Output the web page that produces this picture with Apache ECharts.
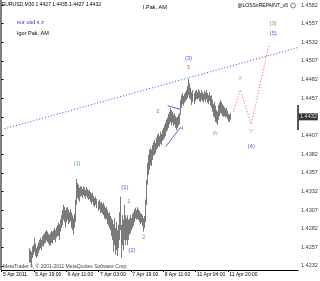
<!DOCTYPE html>
<html><head><meta charset="utf-8">
<script src="https://cdn.jsdelivr.net/npm/echarts@6/dist/echarts.min.js"></script>
<style>html,body{margin:0;padding:0;background:#fff}#c{width:320px;height:281px}</style>
</head><body><div id="c"></div>
<script>
// M30 bars, index 0 = 5 Apr 2011 03:00 ; first visible bar index
const firstBar = 27;
const highs = [
1.4256,1.4253,1.4251,1.4258,1.4260,1.4270,1.4262,1.4256,1.4259,1.4263,
1.4267,1.4270,1.4267,1.4272,1.4274,1.4276,1.4278,1.4280,1.4278,1.4275,
1.4274,1.4276,1.4279,1.4278,1.4280,1.4283,1.4280,1.4284,1.4287,1.4290,
1.4288,1.4294,1.4300,1.4307,1.4314,1.4311,1.4307,1.4310,1.4311,1.4307,
1.4304,1.4308,1.4304,1.4300,1.4296,1.4302,1.4321,1.4349,1.4343,1.4341,
1.4337,1.4339,1.4338,1.4335,1.4339,1.4337,1.4334,1.4338,1.4335,1.4333,
1.4334,1.4331,1.4329,1.4330,1.4326,1.4323,1.4325,1.4322,1.4319,1.4321,
1.4317,1.4318,1.4315,1.4317,1.4313,1.4310,1.4311,1.4307,1.4303,1.4304,
1.4299,1.4296,1.4294,1.4288,1.4296,1.4283,1.4291,1.4280,1.4287,1.4304,
1.4325,1.4287,1.4300,1.4294,1.4314,1.4300,1.4296,1.4300,1.4294,1.4296,
1.4300,1.4296,1.4302,1.4304,1.4308,1.4310,1.4307,1.4311,1.4308,1.4306,
1.4303,1.4302,1.4300,1.4296,1.4299,1.4321,1.4347,1.4370,1.4381,1.4388,
1.4390,1.4388,1.4394,1.4398,1.4401,1.4397,1.4404,1.4408,1.4410,1.4406,
1.4412,1.4409,1.4414,1.4417,1.4421,1.4424,1.4428,1.4431,1.4436,1.4439,
1.4444,1.4441,1.4439,1.4435,1.4437,1.4433,1.4431,1.4432,1.4435,1.4437,
1.4455,1.4461,1.4464,1.4460,1.4463,1.4465,1.4468,1.4473,1.4483,1.4477,
1.4471,1.4465,1.4468,1.4464,1.4467,1.4468,1.4465,1.4469,1.4467,1.4464,
1.4468,1.4465,1.4463,1.4467,1.4465,1.4468,1.4464,1.4461,1.4465,1.4460,
1.4461,1.4455,1.4449,1.4452,1.4447,1.4441,1.4439,1.4448,1.4451,1.4455,
1.4452,1.4449,1.4447,1.4445,1.4443,1.4444,1.4440,1.4436,1.4435,1.4437
];
const lows = [
1.4237,1.4236,1.4233,1.4243,1.4247,1.4251,1.4245,1.4243,1.4245,1.4249,
1.4253,1.4256,1.4253,1.4259,1.4258,1.4262,1.4263,1.4266,1.4264,1.4262,
1.4259,1.4260,1.4263,1.4262,1.4267,1.4267,1.4264,1.4270,1.4272,1.4272,
1.4267,1.4278,1.4283,1.4287,1.4294,1.4291,1.4284,1.4291,1.4294,1.4288,
1.4290,1.4292,1.4283,1.4280,1.4274,1.4283,1.4291,1.4314,1.4323,1.4321,
1.4318,1.4325,1.4326,1.4323,1.4327,1.4325,1.4322,1.4326,1.4323,1.4321,
1.4322,1.4318,1.4315,1.4318,1.4313,1.4311,1.4314,1.4310,1.4306,1.4308,
1.4303,1.4304,1.4302,1.4300,1.4296,1.4294,1.4295,1.4288,1.4286,1.4283,
1.4280,1.4272,1.4267,1.4251,1.4260,1.4247,1.4253,1.4245,1.4256,1.4267,
1.4280,1.4243,1.4260,1.4253,1.4267,1.4260,1.4267,1.4260,1.4267,1.4274,
1.4276,1.4280,1.4283,1.4286,1.4291,1.4296,1.4294,1.4295,1.4294,1.4291,
1.4288,1.4290,1.4286,1.4278,1.4283,1.4291,1.4314,1.4341,1.4354,1.4361,
1.4367,1.4366,1.4374,1.4380,1.4381,1.4383,1.4388,1.4390,1.4393,1.4392,
1.4396,1.4394,1.4400,1.4401,1.4404,1.4406,1.4412,1.4414,1.4417,1.4422,
1.4425,1.4421,1.4424,1.4420,1.4422,1.4417,1.4414,1.4417,1.4420,1.4422,
1.4435,1.4444,1.4449,1.4447,1.4451,1.4453,1.4455,1.4457,1.4461,1.4457,
1.4455,1.4448,1.4452,1.4449,1.4453,1.4456,1.4455,1.4457,1.4453,1.4452,
1.4455,1.4453,1.4451,1.4455,1.4452,1.4456,1.4451,1.4449,1.4453,1.4447,
1.4444,1.4439,1.4433,1.4431,1.4425,1.4424,1.4421,1.4428,1.4433,1.4437,
1.4436,1.4433,1.4432,1.4433,1.4431,1.4432,1.4429,1.4426,1.4425,1.4428
];
const lastPrice = 1.4432;
const priceTicks = [1.4232,1.4257,1.4282,1.4307,1.4332,1.4357,1.4382,1.4407,1.4432,1.4457,1.4482,1.4507,1.4532,1.4557,1.4582];
const timeTicks = [0,32,64,96,128,160,192,224];
const timeLabels = ['5 Apr 2011','5 Apr 19:00','6 Apr 11:00','7 Apr 03:00','7 Apr 19:00','8 Apr 11:00','11 Apr 04:00','11 Apr 20:00'];
const trendLine = [[2.95,1.4416],[293.4,1.4525]];
const projection = [[229.4,1.4439],[236.3,1.4468],[247.1,1.4422],[264.9,1.4530]];
const channelUpper = [[164.4,1.4447],[177.2,1.4442]];
const channelLower = [[162.5,1.4392],[177.2,1.4418]];
const labelsRed = [['1',126.0,1.4319],['2',140.8,1.4271],['3',154.6,1.4440],['4',178.2,1.4416],['5',185.1,1.4498]];
const labelsBlue = [['(1)',122.1,1.4338],['(2)',129.0,1.4253],['(3)',185.1,1.4510],['(4)',247.1,1.4393],['(5)',268.8,1.4544]];
const labelsGreen = [['[1]',74.8,1.4370],['[3]',268.8,1.4557]];
const labelsWXY = [['W',211.7,1.4410],['X',236.3,1.4483],['Y',247.1,1.4412]];

const FONT = 'Liberation Sans';
const X_MAX = 293.4;
const bars = highs.map((h,k)=>[firstBar+k, lows[k], h]);
function labelSeries(arr, color){
  return {type:'scatter', symbolSize:0, silent:true, z:5,
    data: arr.map(a=>({name:a[0], value:[a[1],a[2]]})),
    label:{show:true, position:'inside', formatter:'{b}', color:color, fontSize:6, fontFamily:FONT}};
}
const chart = echarts.init(document.getElementById('c'), null, {renderer:'canvas'});
chart.setOption({
  animation:false,
  backgroundColor:'#fff',
  grid:{left:0, right:22, top:0, bottom:11, show:false},
  title:[
    {text:'EURUSD,M30 1.4427 1.4435 1.4427 1.4432', left:2, top:2.5, padding:0, textStyle:{fontSize:5, fontWeight:'normal', color:'#000', fontFamily:FONT}},
    {text:'I.Pak, AM', left:143, top:4.5, padding:0, textStyle:{fontSize:5.5, fontWeight:'normal', color:'#000', fontFamily:FONT}},
    {text:'@LOSSnREPAINT_v5', right:32, top:3.5, padding:0, textStyle:{fontSize:5, fontWeight:'normal', color:'#000', fontFamily:FONT}},
    {text:'eur usd s z', left:17, top:19, padding:0, textStyle:{fontSize:5.5, fontWeight:'normal', color:'#3333dd', fontFamily:FONT}},
    {text:'Igor Pak, AM', left:17, top:30, padding:0, textStyle:{fontSize:5.5, fontWeight:'normal', color:'#000', fontFamily:FONT}},
    {text:'MetaTrader 4, \u00a9 2001-2011 MetaQuotes Software Corp.', left:3, top:264, padding:0, textStyle:{fontSize:5, fontWeight:'normal', color:'#444', fontFamily:FONT}}
  ],
  graphic:[
    {type:'line', shape:{x1:0.5, y1:0, x2:0.5, y2:270}, style:{stroke:'#808080', lineWidth:1}},
    {type:'circle', shape:{cx:293, cy:5.5, r:2.5}, style:{fill:'#fff', stroke:'#666', lineWidth:0.8}},
    {type:'rect', shape:{x:297, y:105, width:2, height:25}, style:{fill:'#555'}, z:100}
  ],
  xAxis:{type:'value', min:0, max:X_MAX,
    axisLine:{show:true, lineStyle:{color:'#000', width:1}},
    axisTick:{show:true, length:2, customValues:timeTicks, lineStyle:{color:'#000'}},
    axisLabel:{customValues:timeTicks, align:'left', margin:2, padding:[0,0,0,1.5], fontSize:5, color:'#000', fontFamily:FONT,
      formatter:v=>timeLabels[timeTicks.indexOf(Math.round(v))] || ''},
    splitLine:{show:false}},
  yAxis:{type:'value', position:'right', min:1.42266, max:1.45887,
    axisLine:{show:true, lineStyle:{color:'#808080', width:1}},
    axisTick:{show:true, length:2, customValues:priceTicks, lineStyle:{color:'#000'}},
    axisLabel:{show:false},
    splitLine:{show:false}},
  series:[
    {type:'custom', clip:true, silent:true, z:2,
      renderItem:(params, api)=>{
        const i=api.value(0);
        const p1=api.coord([i, api.value(1)]);
        const p2=api.coord([i, api.value(2)]);
        const x=Math.round(p1[0])+0.5;
        return {type:'line', shape:{x1:x, y1:p1[1], x2:x, y2:p2[1]}, style:{stroke:'#7a7a7a', lineWidth:1}};
      },
      encode:{x:0, y:[1,2]}, data:bars},
    // price scale labels
    {type:'scatter', symbolSize:0, silent:true, z:20, clip:false,
      data:priceTicks.filter(v=>v!==lastPrice).map(v=>({name:v.toFixed(4), value:[X_MAX, v]})),
      label:{show:true, position:'right', distance:3, formatter:'{b}', color:'#000', fontSize:5.5, fontFamily:FONT}},
    // current price box
    {type:'scatter', symbolSize:0, silent:true, z:21, clip:false,
      data:[{name:lastPrice.toFixed(4), value:[X_MAX, lastPrice]}],
      label:{show:true, position:'right', distance:1, formatter:'{b}', backgroundColor:'#000', color:'#fff', padding:[1,1,0,1], fontSize:5.5, fontFamily:FONT}},
    {type:'line', data:trendLine, symbol:'none', silent:true, z:3, lineStyle:{color:'#4848e0', width:1, type:[1,2]}},
    {type:'line', data:projection, symbol:'none', silent:true, z:3, lineStyle:{color:'#ff4d4d', width:1, type:[1,2]}},
    {type:'line', data:channelUpper, symbol:'none', silent:true, z:3, lineStyle:{color:'#6060e0', width:1}},
    {type:'line', data:channelLower, symbol:'none', silent:true, z:3, lineStyle:{color:'#6060e0', width:1}},
    labelSeries(labelsRed, '#c84040'),
    labelSeries(labelsBlue, '#2828d8'),
    labelSeries(labelsGreen, '#40a040'),
    labelSeries(labelsWXY, '#c08080')
  ]
});
</script></body></html>
